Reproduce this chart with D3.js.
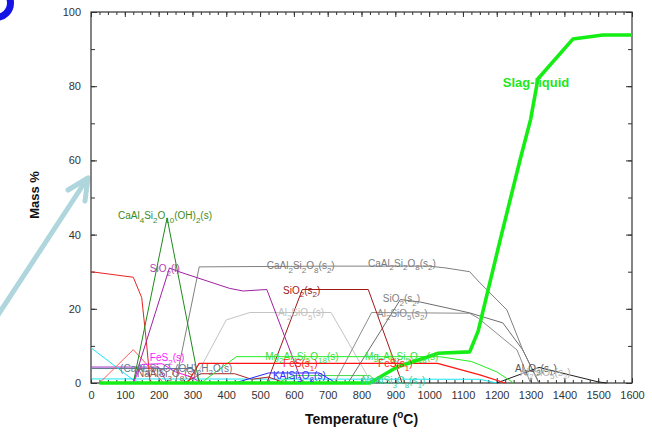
<!DOCTYPE html>
<html>
<head>
<meta charset="utf-8">
<script src="https://cdn.jsdelivr.net/npm/d3@7"></script>
<style>
  body { margin: 0; background: #fff; }
  svg { display: block; }
  text { font-family: Arial, "Liberation Sans", sans-serif; }
</style>
</head>
<body>
<svg id="chart" width="652" height="432"></svg>
<script>
// Equilibrium phase amounts (mass %) versus temperature (°C), as [T, mass%] pairs.
const slagLiquid      = [[25,0],[825,0],[905,4.3],[995,7],[1025,8],[1120,8.4],[1145,14],[1210,38.5],[1270,60.5],[1300,71],[1322,82],[1425,92.7],[1514,93.8],[1600,93.8]];
const margarite       = [[125,0],[225,44.5],[320,0]];                       // CaAl4Si2O10(OH)2(s)
const silicaLiquid    = [[125,0],[232,31],[260,30],[410,25.5],[450,24.8],[520,25.2],[625,0]]; // SiO2(l)
const anorthite       = [[250,0],[320,31.3],[700,31.5],[1000,31.5],[1050,31],[1120,30],[1145,27.5],[1230,19.7],[1277,8.9],[1325,0]];
const quartzS2        = [[520,0],[625,25.2],[820,25.2],[920,0]];            // SiO2(s2)
const silicaS2        = [[760,0],[915,22.5],[975,21.8],[1120,18.9],[1218,16.2],[1277,8.9],[1325,0]];
const al2sio5S        = [[300,0],[400,17],[470,19],[710,19],[830,0]];
const al2sio5S2       = [[720,0],[830,19],[1120,18.8],[1145,17.5],[1260,8.9],[1300,0]];
const cordierite      = [[325,0],[430,7.1],[1030,7.1],[1125,5.8],[1200,3],[1250,0]]; // Mg2Al4Si5O18(s)
const troilite        = [[285,0],[320,5.3],[1025,5.3],[1150,2.2],[1225,0]];  // FeS(s1)
const pyrite          = [[125,0],[150,5],[210,5.2],[250,3],[300,1.5],[325,0]]; // FeS2(s)
const kFeldspar       = [[425,0],[525,2.7],[675,2.7],[725,0]];               // KAlSi3O8(s)
const corundum        = [[1200,0],[1325,4.2],[1500,0.3],[1525,0]];            // Al2O3(s1)
const lowTempRed      = [[0,30],[125,28.5],[150,23],[165,10],[175,0]];
const redPeak         = [[25,0],[125,9],[200,1.5],[215,0]];
const lawsonite       = [[0,3.9],[300,3.9],[325,0]];
const violetPhase     = [[0,4.3],[200,4.3],[225,0]];
const cyanDiag        = [[0,9.5],[125,0.8],[150,0]];
const cyanFlat        = [[0,1.1],[1150,1],[1200,0]];
const darkRedLow      = [[275,0],[325,2.5],[425,2.5],[475,1],[525,1.6],[575,0]];
const greenLow        = [[550,0],[600,2],[825,2],[850,0]];

// Axis tick values
const xMajorTicks = d3.range(0, 1601, 100);
const xMinorTicks = d3.range(0, 1601, 25);
const yMajorTicks = [0, 20, 40, 60, 80, 100];
const yMinorTicks = d3.range(0, 101, 10);

// Series drawing order: name, values, colour, width
const series = [
  ["lawsonite",    lawsonite,    "#627a92", 1],
  ["violetPhase",  violetPhase,  "#9a30c8", 1],
  ["cyanDiag",     cyanDiag,     "#19e6f0", 1],
  ["cyanFlat",     cyanFlat,     "#19e6f0", 1],
  ["darkRedLow",   darkRedLow,   "#b02424", 1],
  ["greenLow",     greenLow,     "#3ddd3d", 1],
  ["al2sio5S",     al2sio5S,     "#c4c4c4", 1],
  ["al2sio5S2",    al2sio5S2,    "#8e8e8e", 1],
  ["silicaS2",     silicaS2,     "#6e6e6e", 1],
  ["anorthite",    anorthite,    "#808080", 1],
  ["corundum",     corundum,     "#1e1e1e", 1],
  ["lowTempRed",   lowTempRed,   "#e82222", 1],
  ["redPeak",      redPeak,      "#ff5a5a", 1],
  ["quartzS2",     quartzS2,     "#a01818", 1],
  ["silicaLiquid", silicaLiquid, "#a020a0", 1],
  ["margarite",    margarite,    "#1c8a1c", 1],
  ["pyrite",       pyrite,       "#ff10ff", 1],
  ["kFeldspar",    kFeldspar,    "#2626ff", 1],
  ["cordierite",   cordierite,   "#22ee22", 1],
  ["troilite",     troilite,     "#ff1414", 1.2],
  ["slagLiquid",   slagLiquid,   "#14ee14", 3.6]
];

// Phase labels: text (_x / _{xx} = subscript), anchor [T, mass%], colour
const phaseLabels = [
  ["CaAl_4Si_2O_{10}(OH)_2(s)", [80, 44.2],   "#3a8a22"],
  ["SiO_2(l)",                  [174, 29.9],  "#b03cb0"],
  ["CaAl_2Si_2O_8(s_2)",        [520, 30.7],  "#7a7a7a"],
  ["CaAl_2Si_2O_8(s_2)",        [819, 31.3],  "#7a7a7a"],
  ["SiO_2(s_2)",                [568, 24.0],  "#a01818"],
  ["SiO_2(s_2)",                [863, 21.8],  "#808080"],
  ["Al_2SiO_5(s)",              [553, 18.0],  "#c0c0c0"],
  ["Al_2SiO_5(s_2)",            [846, 17.8],  "#8a8a8a"],
  ["FeS_2(s)",                  [174, 5.9],   "#ff20ff"],
  ["Mg_2Al_4Si_5O_{18}(s)",     [515, 6.2],   "#3cdc3c"],
  ["Mg_2Al_4Si_5O_{18}(s)",     [810, 6.2],   "#3cdc3c"],
  ["FeS(s_1)",                  [568, 4.3],   "#ff2020"],
  ["FeS(s_1)",                  [849, 4.3],   "#ff2020"],
  ["(CaAl_2Si_2O_7(OH)_2H_2O(s)", [86, 3.0],  "#5f7890"],
  ["NaAlSi_3O_8(s)",            [136, 1.6],   "#8a5a5a"],
  ["KAlSi_3O_8(s)",             [538, 1.1],   "#3030ff"],
  ["NaAlSi_3O_8(s_1)",          [801, -0.3],  "#33d29a"],
  ["Al_2O_3(s_1)",              [1254, 3.0],  "#555555"],
  ["Al_2SiO_5(s_2)",            [1269, 1.9],  "#b0b0b0"]
];

const svg = d3.select("#chart");
const margin = { left: 91, right: 20, top: 12, bottom: 49 };
const W = 652, H = 432;

const x = d3.scaleLinear().domain([0, 1600]).range([margin.left, W - margin.right]);
const y = d3.scaleLinear().domain([0, 100]).range([H - margin.bottom, margin.top]);

// Slide decorations: blue ring at the corner and pointer arrow towards the axis
svg.append("circle")
  .attr("cx", -4).attr("cy", 3).attr("r", 14.5)
  .attr("fill", "none").attr("stroke", "#1414e6").attr("stroke-width", 7);

const arrow = svg.append("g")
  .attr("fill", "none").attr("stroke", "#aed6dc")
  .attr("stroke-width", 5).attr("stroke-linecap", "round").attr("stroke-linejoin", "round");
arrow.append("path").attr("d", "M-4,318 L87,179");
arrow.append("path").attr("d", "M68,190 L88,178 L85,201");

// Axes: inward ticks on all four sides
function styleAxis(g) {
  g.select(".domain").remove();
  g.selectAll(".tick line").attr("stroke", "#333");
  g.selectAll(".tick text").attr("fill", "#333").attr("font-size", 11)
    .attr("font-family", "Arial, 'Liberation Sans', sans-serif");
}
const plotB = y(0), plotT = y(100), plotL = x(0), plotR = x(1600);

svg.append("g").attr("transform", `translate(0,${plotB})`)
  .call(d3.axisBottom(x).tickValues(xMinorTicks).tickSize(-3).tickFormat(() => "")).call(styleAxis);
svg.append("g").attr("transform", `translate(0,${plotB})`)
  .call(d3.axisBottom(x).tickValues(xMajorTicks).tickSize(-5).tickPadding(8).tickFormat(d3.format("d"))).call(styleAxis);
svg.append("g").attr("transform", `translate(0,${plotT})`)
  .call(d3.axisTop(x).tickValues(xMinorTicks).tickSize(-3).tickFormat(() => "")).call(styleAxis);
svg.append("g").attr("transform", `translate(0,${plotT})`)
  .call(d3.axisTop(x).tickValues(xMajorTicks).tickSize(-5).tickFormat(() => "")).call(styleAxis);
svg.append("g").attr("transform", `translate(${plotL},0)`)
  .call(d3.axisLeft(y).tickValues(yMinorTicks).tickSize(-4).tickFormat(() => "")).call(styleAxis);
svg.append("g").attr("transform", `translate(${plotL},0)`)
  .call(d3.axisLeft(y).tickValues(yMajorTicks).tickSize(-6).tickPadding(10).tickFormat(d3.format("d"))).call(styleAxis);
svg.append("g").attr("transform", `translate(${plotR},0)`)
  .call(d3.axisRight(y).tickValues(yMinorTicks).tickSize(-4).tickFormat(() => "")).call(styleAxis);
svg.append("g").attr("transform", `translate(${plotR},0)`)
  .call(d3.axisRight(y).tickValues(yMajorTicks).tickSize(-6).tickFormat(() => "")).call(styleAxis);

// Plot frame
svg.append("rect")
  .attr("x", plotL).attr("y", plotT)
  .attr("width", plotR - plotL).attr("height", plotB - plotT)
  .attr("fill", "none").attr("stroke", "#333").attr("stroke-width", 1.2);

// Phase curves
const line = d3.line().x(d => x(d[0])).y(d => y(d[1]));
svg.append("g").selectAll("path")
  .data(series)
  .join("path")
  .attr("d", d => line(d[1]))
  .attr("fill", "none")
  .attr("stroke", d => d[2])
  .attr("stroke-width", d => d[3])
  .attr("stroke-linejoin", "round");

// Text with subscripts
function richText(sel, str, fs) {
  const re = /_\{([^}]*)\}|_(.)/g;
  const shift = fs * 0.35;
  let last = 0, m, lowered = false;
  const put = (txt, sub) => {
    const t = sel.append("tspan").text(txt);
    if (sub) {
      t.attr("font-size", fs * 0.8);
      if (!lowered) { t.attr("dy", shift); lowered = true; }
    } else if (lowered) { t.attr("dy", -shift); lowered = false; }
  };
  while ((m = re.exec(str))) {
    if (m.index > last) put(str.slice(last, m.index), false);
    put(m[1] !== undefined ? m[1] : m[2], true);
    last = re.lastIndex;
  }
  if (last < str.length) put(str.slice(last), false);
}

const labelG = svg.append("g");
phaseLabels.forEach(([txt, pos, col]) => {
  const t = labelG.append("text")
    .attr("x", x(pos[0])).attr("y", y(pos[1]))
    .attr("fill", col).attr("font-size", 10);
  richText(t, txt, 10);
});

labelG.append("text")
  .attr("x", x(1218)).attr("y", y(79.8))
  .attr("fill", "#22e622").attr("font-size", 13).attr("font-weight", "bold")
  .text("Slag-liquid");

// Axis titles
const xt = svg.append("text")
  .attr("x", (plotL + plotR) / 2).attr("y", 424)
  .attr("text-anchor", "middle").attr("font-size", 14).attr("font-weight", "bold").attr("fill", "#111");
xt.append("tspan").text("Temperature (");
xt.append("tspan").attr("font-size", 10).attr("dy", -6).text("o");
xt.append("tspan").attr("dy", 6).text("C)");

svg.append("text")
  .attr("transform", "translate(39,195) rotate(-90)")
  .attr("text-anchor", "middle").attr("font-size", 13).attr("font-weight", "bold").attr("fill", "#111")
  .text("Mass %");
</script>
</body>
</html>
